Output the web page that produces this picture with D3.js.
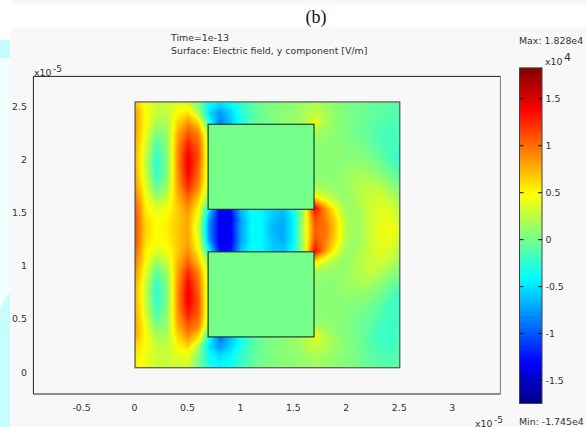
<!DOCTYPE html>
<html><head><meta charset="utf-8">
<script src="https://cdn.jsdelivr.net/npm/d3@7"></script>
<style>
html,body{margin:0;padding:0;background:#fff;overflow:hidden}
svg{display:block}
text{font-family:"DejaVu Sans",sans-serif;font-size:9.4px;fill:#333}
</style></head><body>
<svg id="c" width="586" height="427"></svg>
<script>
// Electric field y component (x10^4 V/m).
// Rows run from the top of the geometry to the bottom, columns from left to right, 0.1 apart.
const fieldRows = [
[.7,.45,.32,.3,.36,.3,.05,-.35,-.48,-.38,-.2,-.08,0,.05,.08,.1,.15,.2,.12,.08,.04,0,-.02,-.05,-.06,-.08],
[.85,.48,.3,.28,.5,.6,.2,-.5,-.75,-.55,-.28,-.1,0,.05,.1,.12,.2,.3,.2,.1,.05,0,-.03,-.07,-.1,-.1],
[.85,.5,.2,.2,.65,.9,.65,-.25,-.85,-.6,-.3,-.12,0,.05,.1,.12,.22,.42,.2,.1,.05,0,-.05,-.1,-.12,-.12],
[.85,.45,.03,.12,.78,1.1,.95,.15,0,0,0,0,0,0,0,0,0,.15,.12,.1,.05,0,-.05,-.12,-.15,-.15],
[.82,.38,-.12,.08,.85,1.3,1.05,.25,0,0,0,0,0,0,0,0,0,.1,.1,.1,.06,.03,-.02,-.1,-.16,-.18],
[.8,.32,-.2,.05,.88,1.42,1.1,.25,0,0,0,0,0,0,0,0,0,.1,.1,.1,.08,.08,.03,-.05,-.15,-.22],
[.8,.3,-.25,.03,.88,1.45,1.05,.25,0,0,0,0,0,0,0,0,0,.1,.1,.1,.12,.12,.1,.03,-.06,-.2],
[.82,.35,-.2,.08,.85,1.38,1.0,.25,0,0,0,0,0,0,0,0,0,.1,.1,.1,.15,.2,.2,.12,.03,-.08],
[.9,.42,-.05,.15,.82,1.25,.9,.22,0,0,0,0,0,0,0,0,0,.15,.15,.12,.15,.22,.28,.26,.15,.05],
[1.0,.5,.15,.3,.75,1.05,.7,.1,0,0,0,0,0,0,0,0,0,.6,.35,.2,.12,.22,.3,.34,.28,.15],
[1.1,.55,.38,.45,.68,.9,.5,-.4,-1.25,-1.25,-.6,-.38,-.42,-.55,-.6,-.35,.3,1.4,.85,.45,.15,.18,.3,.38,.36,.25],
[1.15,.62,.48,.52,.68,.82,.4,-.75,-1.35,-1.35,-.72,-.4,-.42,-.6,-.68,-.4,.3,1.15,.95,.6,.2,.15,.28,.4,.42,.32],
[1.15,.65,.5,.55,.7,.82,.3,-.8,-1.32,-1.32,-.7,-.38,-.42,-.65,-.7,-.4,.35,1.05,1.0,.65,.22,.15,.28,.42,.48,.38],
[1.15,.62,.48,.52,.68,.82,.4,-.75,-1.35,-1.35,-.72,-.4,-.42,-.6,-.68,-.4,.3,1.15,.95,.6,.2,.15,.28,.4,.42,.32],
[1.1,.55,.38,.45,.68,.9,.5,-.4,-1.25,-1.25,-.6,-.38,-.42,-.55,-.6,-.35,.3,1.4,.85,.45,.15,.18,.3,.38,.36,.25],
[1.0,.5,.15,.3,.75,1.05,.7,.1,0,0,0,0,0,0,0,0,0,.6,.35,.2,.12,.22,.3,.34,.28,.15],
[.9,.42,-.05,.15,.82,1.25,.9,.22,0,0,0,0,0,0,0,0,0,.15,.15,.12,.15,.22,.28,.26,.15,.05],
[.82,.35,-.2,.08,.85,1.38,1.0,.25,0,0,0,0,0,0,0,0,0,.1,.1,.1,.15,.2,.2,.12,.03,-.08],
[.8,.3,-.25,.03,.88,1.45,1.05,.25,0,0,0,0,0,0,0,0,0,.1,.1,.1,.12,.12,.1,.03,-.06,-.2],
[.8,.32,-.2,.05,.88,1.42,1.1,.25,0,0,0,0,0,0,0,0,0,.1,.1,.1,.08,.08,.03,-.05,-.15,-.22],
[.82,.38,-.12,.08,.85,1.3,1.05,.25,0,0,0,0,0,0,0,0,0,.1,.1,.1,.06,.03,-.02,-.1,-.16,-.18],
[.85,.45,.03,.12,.78,1.1,.95,.15,0,0,0,0,0,0,0,0,0,.15,.12,.1,.05,0,-.05,-.15,-.18,-.18],
[.8,.5,.2,.2,.65,.9,.65,-.25,-.9,-.65,-.35,-.12,-.02,.05,.1,.12,.25,.45,.25,.12,.06,0,-.08,-.18,-.2,-.15],
[.65,.48,.3,.28,.5,.65,.2,-.5,-.75,-.55,-.3,-.1,0,.05,.1,.12,.2,.3,.25,.15,.08,.02,-.08,-.15,-.18,-.12],
[.58,.45,.32,.3,.38,.42,.05,-.35,-.5,-.4,-.22,-.08,0,.05,.08,.1,.15,.2,.15,.12,.08,.02,-.05,-.1,-.12,-.1],
[.55,.42,.33,.3,.32,.3,.02,-.3,-.4,-.35,-.18,-.05,.02,.06,.08,.1,.12,.15,.1,.1,.06,.02,-.03,-.06,-.08,-.08]
];
const gridStep = 0.1;
const domainX = [0.01, 2.51];
const domainY = [0.04, 2.54];
const blockX = [0.7, 1.7];
const blocksY = [[1.53, 2.33], [0.33, 1.13]];
const xTicks = [-0.5, 0, 0.5, 1, 1.5, 2, 2.5, 3];
const yTicks = [0, 0.5, 1, 1.5, 2, 2.5];
const barTicks = [-1.5, -1, -0.5, 0, 0.5, 1, 1.5];
const fieldMin = -1.745, fieldMax = 1.828;
const titleLines = ["Time=1e-13", "Surface: Electric field, y component [V/m]"];

const svg = d3.select("#c");
const x = d3.scaleLinear().domain([-0.95, 3.46]).range([33.4, 500.4]);
const y = d3.scaleLinear().domain([-0.207, 2.78]).range([394, 76.4]);
const frac = t => fieldMin + t * (fieldMax - fieldMin);
const color = d3.scaleLinear()
  .domain([0, .125, .375, .625, .875, 1].map(frac))
  .range(["#000080", "#0000ff", "#00ffff", "#ffff00", "#ff0000", "#800000"]);

// page background
svg.append("rect").attr("x",10).attr("y",0).attr("width",576).attr("height",4).attr("fill","#f8f8f8");
svg.append("rect").attr("x",10).attr("y",28).attr("width",576).attr("height",399).attr("fill","#f8f8f8");
svg.append("rect").attr("x",0).attr("y",40).attr("width",10).attr("height",18).attr("fill","#c6fbff");
svg.append("rect").attr("x",0).attr("y",58).attr("width",10).attr("height",255).attr("fill","#f0fefe");
svg.append("path").attr("d","M0 308L10 292V427H0Z").attr("fill","#c8fdff");
svg.append("text").attr("x",316).attr("y",23).attr("text-anchor","middle")
  .style("font-family","'Liberation Serif',serif").style("font-size","18px").style("fill","#111").text("(b)");

// field surface
const nx = fieldRows[0].length, ny = fieldRows.length;
const flat = fieldRows.flat();
const levels = d3.range(fieldMin, fieldMax, 0.025);
const contours = d3.contours().size([nx, ny]).thresholds(levels)(flat);
const path = d3.geoPath(d3.geoTransform({point(px, py) {
  this.stream.point(x(domainX[0] + (px - .5) * gridStep), y(domainY[1] - (py - .5) * gridStep));
}}));
svg.append("clipPath").attr("id","dom").append("rect")
  .attr("x",x(domainX[0])).attr("y",y(domainY[1]))
  .attr("width",x(domainX[1])-x(domainX[0])).attr("height",y(domainY[0])-y(domainY[1]));
const field = svg.append("g").attr("clip-path","url(#dom)");
field.append("rect").attr("x",x(domainX[0])).attr("y",y(domainY[1]))
  .attr("width",x(domainX[1])-x(domainX[0])).attr("height",y(domainY[0])-y(domainY[1]))
  .attr("fill",color(fieldMin));
field.selectAll("path").data(contours).join("path")
  .attr("d",path).attr("fill",d=>color(d.value));

// conductor blocks
svg.selectAll("rect.block").data(blocksY).join("rect").attr("class","block")
  .attr("x",x(blockX[0])).attr("width",x(blockX[1])-x(blockX[0]))
  .attr("y",d=>y(d[1])).attr("height",d=>y(d[0])-y(d[1]))
  .attr("fill",color(0)).attr("stroke","#1c2c24").attr("stroke-width",1.1);
// domain outline
svg.append("rect").attr("x",x(domainX[0])).attr("y",y(domainY[1]))
  .attr("width",x(domainX[1])-x(domainX[0])).attr("height",y(domainY[0])-y(domainY[1]))
  .attr("fill","none").attr("stroke","#555").attr("stroke-width",1.2);

// frame
svg.append("path").attr("fill","none").attr("stroke","#222").attr("stroke-width",1)
  .attr("d",`M${x.range()[1]} ${y.range()[1]}H${x.range()[0]}V${y.range()[0]}H${x.range()[1]}`);
svg.append("path").attr("fill","none").attr("stroke","#777").attr("stroke-width",1)
  .attr("d",`M${x.range()[1]} ${y.range()[1]}V${y.range()[0]}`);

// axes
const ax = svg.append("g").attr("transform","translate(0,402)")
  .call(d3.axisBottom(x).tickValues(xTicks).tickFormat(String).tickSize(0));
ax.select(".domain").remove();
ax.selectAll("text").attr("dy",0).attr("y",9).style("font-size","9.4px").style("font-family","'DejaVu Sans',sans-serif");
const ay = svg.append("g").attr("transform","translate(27,0)")
  .call(d3.axisLeft(y).tickValues(yTicks).tickFormat(String).tickSize(0));
ay.select(".domain").remove();
ay.selectAll("text").attr("x",0).style("font-size","9.4px").style("font-family","'DejaVu Sans',sans-serif");

function expo(xp, yp, base, sup, supX, supY, size) {
  svg.append("text").attr("x",xp).attr("y",yp).text(base);
  svg.append("text").attr("x",supX).attr("y",supY).style("font-size",size).text(sup);
}
expo(34, 76, "x10", "-5", 53, 72, "9px");
expo(475, 426.5, "x10", "-5", 494, 423, "9px");
expo(545, 65, "x10", "4", 564, 61, "11px");

// titles
svg.selectAll("text.t").data(titleLines).join("text").attr("class","t")
  .attr("x",171).attr("y",(d,i)=>40.5+i*13.5).text(d=>d);
svg.append("text").attr("x",519).attr("y",43.5).text("Max: 1.828e4");
svg.append("text").attr("x",519).attr("y",425).text("Min: -1.745e4");

// colour bar
const bar = d3.scaleLinear().domain([fieldMin, fieldMax]).range([403.5, 68]);
const barL = 519.5, barR = 542;
const steps = d3.range(fieldMin, fieldMax, (fieldMax-fieldMin)/128);
svg.selectAll("rect.s").data(steps).join("rect").attr("class","s")
  .attr("x",barL).attr("width",barR-barL)
  .attr("y",d=>bar(d)-(bar(fieldMin)-bar(fieldMax))/128-.3)
  .attr("height",(bar(fieldMin)-bar(fieldMax))/128+.6)
  .attr("fill",d=>color(d+(fieldMax-fieldMin)/256));
svg.append("rect").attr("x",barL).attr("y",bar(fieldMax)).attr("width",barR-barL)
  .attr("height",bar(fieldMin)-bar(fieldMax)).attr("fill","none").attr("stroke","#444").attr("stroke-width",1);
svg.selectAll("path.tk").data(barTicks).join("path").attr("class","tk")
  .attr("d",d=>`M${barL} ${bar(d)}h4M${barR} ${bar(d)}h-4`)
  .attr("stroke","#111").attr("stroke-width",1);
svg.selectAll("text.bt").data(barTicks).join("text").attr("class","bt")
  .attr("x",545.5).attr("y",d=>bar(d)+3.5).text(String);
</script>
</body></html>
